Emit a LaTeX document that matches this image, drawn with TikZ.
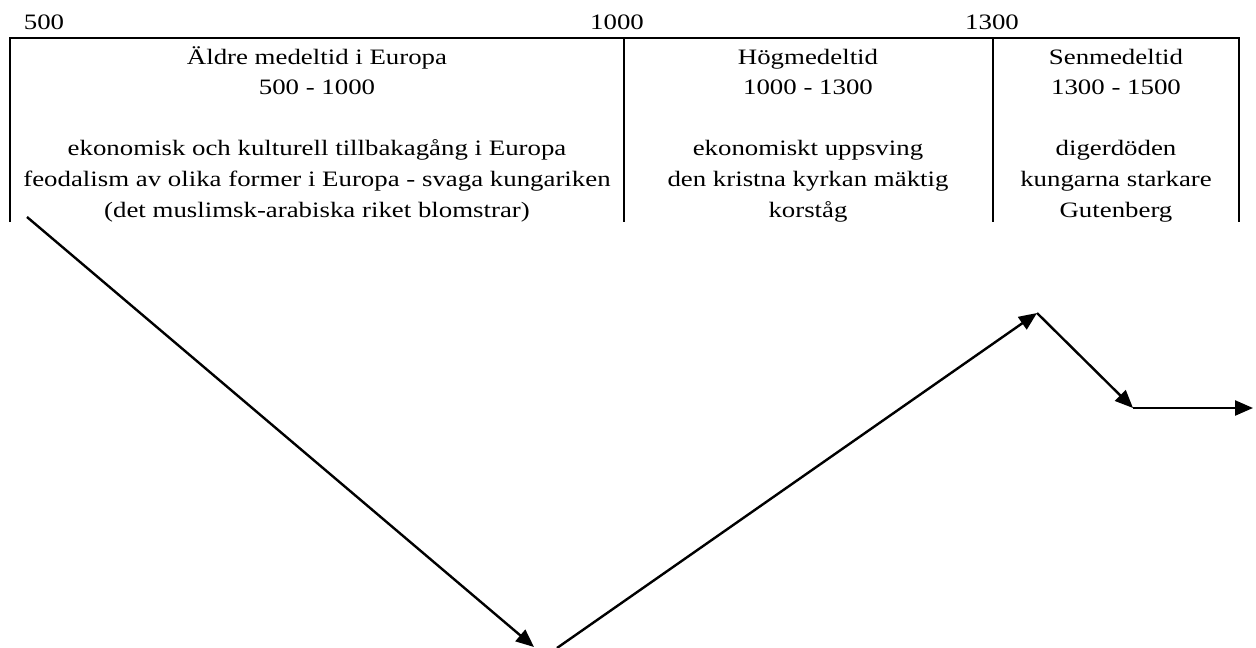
\documentclass[tikz,border=0pt]{standalone}
\usepackage{fontspec}
\setmainfont{Liberation Serif}[FakeStretch=1.22]
\usetikzlibrary{arrows.meta}
\begin{document}
\begin{tikzpicture}[x=1pt,y=-1pt,
  rule/.style={line width=2.4pt},
  yearlbl/.style={anchor=base,inner sep=0pt,font=\fontsize{22}{30.6}\selectfont},
  cell/.style={anchor=base,inner sep=0pt,align=center,font=\fontsize{22}{30.6}\selectfont},
  trend/.style={line width=2.4pt,-{Triangle[length=18pt,width=15pt]}}]
\useasboundingbox (0,0) rectangle (1256,648);
% year labels
\node[yearlbl] (y500) at (44,29) {500};
\node[yearlbl] (y1000) at (617,29) {1000};
\node[yearlbl] (y1300) at (992,29) {1300};
% table frame
\draw[rule] (10,222) -- (10,38) -- (1239,38) -- (1239,222);
\draw[rule] (624,38) -- (624,222);
\draw[rule] (993,38) -- (993,222);
% cells (anchored at the baseline of their last line)
\node[cell] (c1) at (317,217) {Äldre medeltid i Europa\\500 - 1000\\[30.6pt]ekonomisk och kulturell tillbakagång i Europa\\feodalism av olika former i Europa - svaga kungariken\\(det muslimsk-arabiska riket blomstrar)};
\node[cell] (c2) at (808,217) {Högmedeltid\\1000 - 1300\\[30.6pt]ekonomiskt uppsving\\den kristna kyrkan mäktig\\korståg};
\node[cell] (c3) at (1116,217) {Senmedeltid\\1300 - 1500\\[30.6pt]digerdöden\\kungarna starkare\\Gutenberg};
% trend line
\coordinate (p1) at (27,217);
\coordinate (p2) at (534,647);
\coordinate (p3) at (557,648);
\coordinate (p4) at (1037,313);
\coordinate (p5) at (1133,408);
\coordinate (p6) at (1253,408);
\draw[trend] (p1) -- (p2);
\draw[trend] (p3) -- (p4);
\draw[trend] (p4) -- (p5);
\draw[trend] (p5) -- (p6);
\end{tikzpicture}
\end{document}
